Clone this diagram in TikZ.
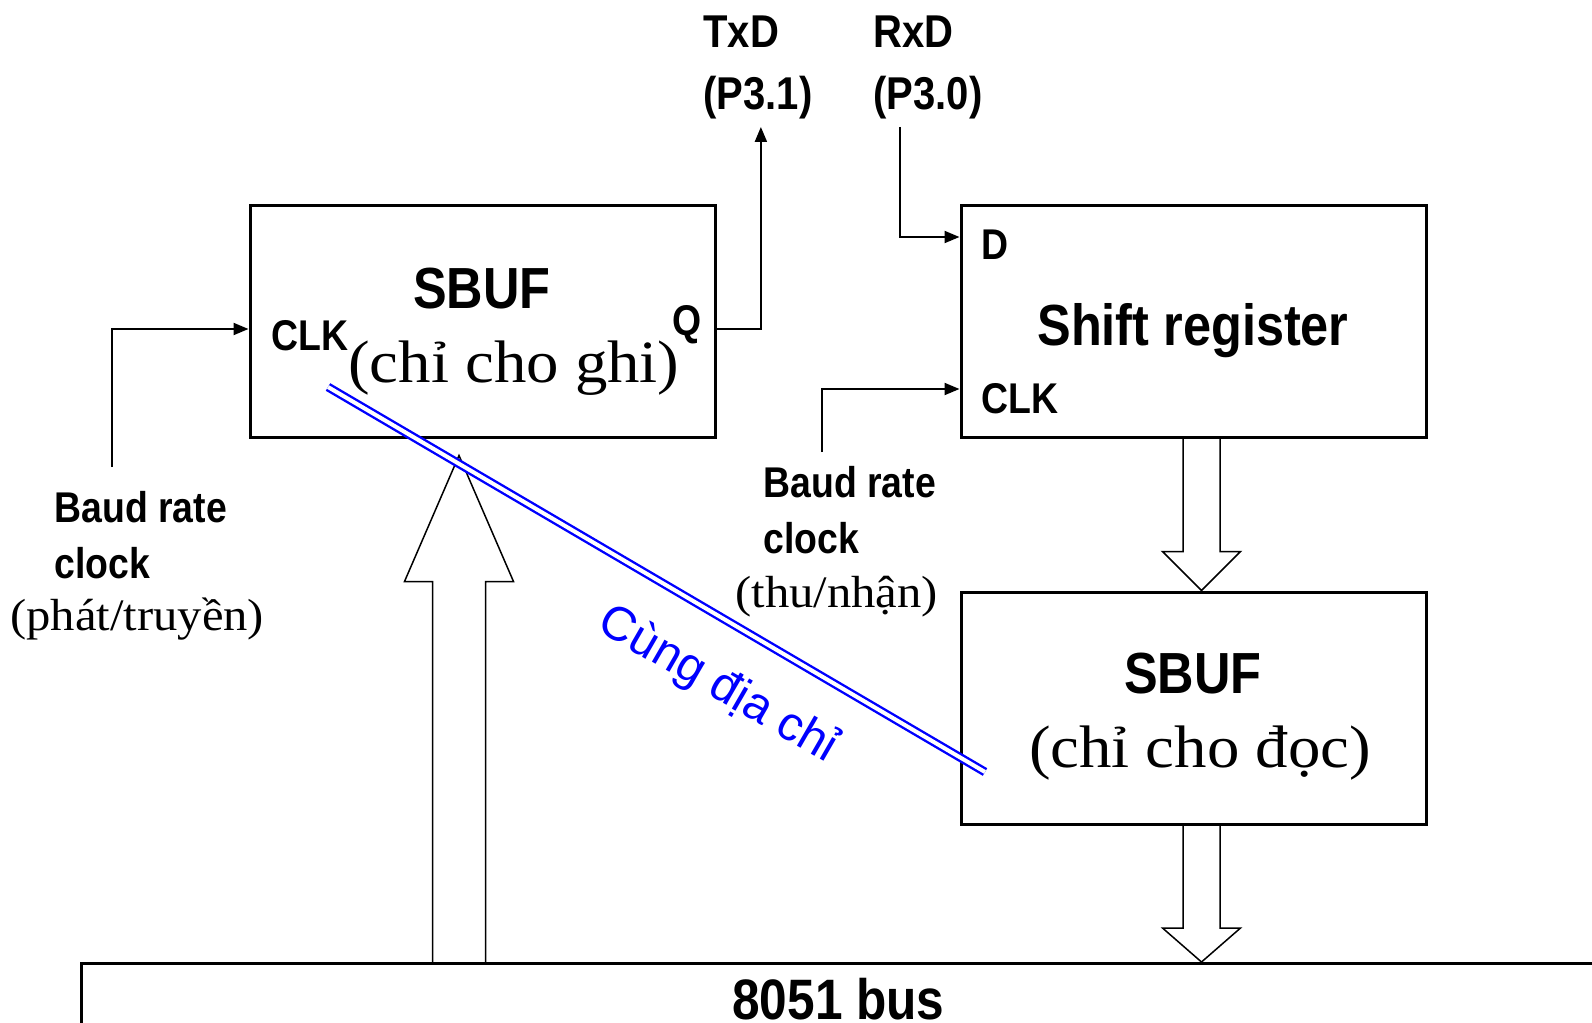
\documentclass[tikz,border=0pt]{standalone}
\usepackage{fontspec}
\setmainfont{Liberation Serif}
\newfontfamily\hdfont[FakeStretch=0.87]{Liberation Sans}
\newfontfamily\viefont[FakeStretch=1.08]{Liberation Serif}
\newfontfamily\addrfont{Liberation Sans}
\usetikzlibrary{arrows.meta, positioning, calc}

% wide hollow arrow: name, tail, tip, shaft half width, head half width, head length
\newcommand{\fatarrow}[6]{%
  \coordinate (#1-b) at ($(#3)!#6!(#2)$);
  \draw[hollow] ($(#2)!#4!90:(#3)$) -- ($(#1-b)!#4!90:(#3)$) -- ($(#1-b)!#5!90:(#3)$)
    -- (#3) -- ($(#1-b)!#5!-90:(#3)$) -- ($(#1-b)!#4!-90:(#3)$) -- ($(#2)!#4!-90:(#3)$);}

\begin{document}
\begin{tikzpicture}[x=0.5pt, y=-0.5pt,
  block/.style={draw, line width=1.5pt, minimum width=232.5pt, minimum height=116pt, inner sep=0pt},
  blocktitle/.style={font=\hdfont\bfseries\fontsize{29}{34}\selectfont, inner sep=0pt},
  portlbl/.style={font=\hdfont\bfseries\fontsize{21.5}{26}\selectfont, inner sep=0pt},
  sigl/.style={font=\hdfont\bfseries\fontsize{23}{28}\selectfont, inner sep=0pt},
  viet/.style={font=\viefont\fontsize{30}{36}\selectfont, inner sep=0pt},
  vietsmall/.style={font=\viefont\fontsize{22.5}{27}\selectfont, inner sep=0pt},
  wire/.style={line width=1pt, -{Triangle[length=7.5pt, width=6pt]}},
  hollow/.style={line width=0.75pt},
  addr/.style={blue, line width=1.2pt, double=white, double distance=2pt}
]
\useasboundingbox (0,0) rectangle (1592,1023);
\clip (0,0) rectangle (1592,1023);

% blocks
\node[block] (sbufw) at (482.5,321) {};
\node[block, right=121.5pt of sbufw] (sreg) {};
\node[block, below=76pt of sreg] (sbufr) {};
\node[draw, line width=1.5pt, anchor=north west, minimum width=757pt, minimum height=35.5pt,
      inner sep=0pt, font=\hdfont\bfseries\fontsize{28.5}{34}\selectfont] (bus) at (80,962) {8051 bus};

% texts in the blocks
\node[blocktitle, anchor=base] (sbufwt) at (482,308) {SBUF};
\node[viet, anchor=base west] (sbufwn) at (348,382) {(chỉ cho ghi)};
\node[portlbl, anchor=base west] (clkwt) at (271,350) {CLK};
\node[portlbl, anchor=base west] (qt) at (672,335) {Q};
\node[blocktitle, anchor=base] (sregt) at (1193,345) {Shift register};
\node[portlbl, anchor=base west] (dt) at (981,259) {D};
\node[portlbl, anchor=base west] (clkrt) at (981,413) {CLK};
\node[blocktitle, anchor=base] (sbufrt) at (1193,693) {SBUF};
\node[viet, anchor=base] (sbufrn) at (1200,767) {(chỉ cho đọc)};

% pins and clocks
\node[sigl, anchor=base west] (txd) at (703,47) {TxD};
\node[sigl, anchor=base west] (txdpin) at (703,109) {(P3.1)};
\node[sigl, anchor=base west] (rxd) at (873,47) {RxD};
\node[sigl, anchor=base west] (rxdpin) at (873,109) {(P3.0)};
\node[portlbl, anchor=base west] (baudw) at (54,522) {Baud rate};
\node[portlbl, anchor=base west] (clockw) at (54,578) {clock};
\node[vietsmall, anchor=base west] (baudwn) at (10,630) {(phát/truyền)};
\node[portlbl, anchor=base west] (baudr) at (763,497) {Baud rate};
\node[portlbl, anchor=base west] (clockr) at (763,553) {clock};
\node[vietsmall, anchor=base west] (baudrn) at (735,607) {(thu/nhận)};

\coordinate (clkw) at (112,467);
\coordinate (clkr) at (822,452);
\draw[wire] (clkw) |- ([yshift=-4pt]sbufw.west);
\draw[wire] ([yshift=-4pt]sbufw.east) -| ([xshift=1.5pt, yshift=-4pt]txdpin.south);
\draw[wire] ([xshift=-13.75pt, yshift=-4pt]rxdpin.south) |- ([yshift=42pt]sreg.west);
\draw[wire] (clkr) |- ([yshift=-34pt]sreg.west);

% data paths
\coordinate (upTip) at ([xshift=-11.75pt, yshift=-8.5pt]sbufw.south);
\coordinate (upTail) at (upTip |- bus.north);
\fatarrow{up}{upTail}{upTip}{13.25pt}{27.25pt}{63pt}
\coordinate (rdTail) at ([xshift=4pt]sreg.south);
\coordinate (rdTip) at ([xshift=4pt]sbufr.north);
\fatarrow{rd}{rdTail}{rdTip}{9.25pt}{19.5pt}{19.5pt}
\coordinate (busTail) at ([xshift=4pt]sbufr.south);
\coordinate (busTip) at (busTail |- bus.north);
\fatarrow{bs}{busTail}{busTip}{9.25pt}{19.5pt}{17pt}

% same address
\coordinate (addrA) at (328,387);
\coordinate (addrB) at (985,772);
\draw[addr] (addrA) -- (addrB);
\node[font=\addrfont\fontsize{24}{29}\selectfont, text=blue, rotate=-30, inner sep=0pt] (same) at (718,685) {Cùng địa chỉ};
\end{tikzpicture}
\end{document}
